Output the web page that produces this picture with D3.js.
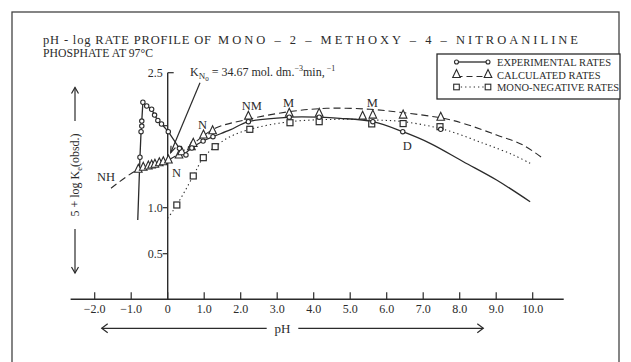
<!DOCTYPE html>
<html><head><meta charset="utf-8">
<script src="https://cdn.jsdelivr.net/npm/d3@7"></script>
<style>
body{margin:0;background:#fff;}
svg{display:block;font-family:"Liberation Serif","Times New Roman",serif;}
</style></head>
<body><svg id="c" width="631" height="362"></svg>
<script>
// ---- data ----
const titleLine1a = "pH - log RATE PROFILE OF";
const titleLine1b = "MONO \u2013 2 \u2013 METHOXY \u2013 4 \u2013 NITROANILINE";
const titleLine2 = "PHOSPHATE AT 97\u00b0C";
const xTicks = [-2,-1,0,1,2,3,4,5,6,7,8,9,10];
const xTickLabels = ["\u22122.0","\u22121.0","0","1.0","2.0","3.0","4.0","5.0","6.0","7.0","8.0","9.0","10.0"];
const yTicks = [2.5, 2.0, 1.0, 0.5];
const yTickLabels = ["2.5", "", "1.0", "0.5"];
const xExtent = [-2.66, 10.85];

// experimental rates: left spike (straight segments) and smooth curve
const expSpikePH  = [-0.82,-0.76,-0.73,-0.71,-0.71,-0.68,-0.575,-0.44,-0.36,-0.27,-0.17,0.016,0.32,0.50];
const expSpikeVal = [0.866,1.615,1.927,1.996,2.044,2.221,2.186,2.155,2.10,2.05,2.016,1.927,1.724,1.643];
const expCurvePH  = [0.43,0.66,0.97,1.24,1.71,2.21,3.33,4.15,4.72,5.62,6.44,7.19,8.10,9.01,9.93];
const expCurveVal = [1.643,1.728,1.813,1.866,1.948,2.038,2.08,2.08,2.07,2.038,1.927,1.785,1.561,1.338,1.073];
const expPointPH  = [0.66,0.97,1.24,2.21,3.33,4.15,5.62,6.44,7.48];
const expPointVal = [1.728,1.813,1.866,2.038,2.08,2.08,2.038,1.927,1.956];

// calculated rates
const calcPointPH  = [-0.805,-0.67,-0.53,-0.44,-0.35,-0.23,-0.12,0.02,0.31,0.38,0.65,0.70,0.98,1.23,2.21,3.33,4.15,5.34,5.62,6.45,7.48];
const calcPointVal = [1.468,1.493,1.509,1.521,1.529,1.549,1.561,1.582,1.643,1.683,1.744,1.785,1.887,1.939,2.09,2.117,2.117,2.09,2.10,2.10,2.08];
const calcCurvePH  = [-1.553,-0.805,0.016,0.61,1.30,2.20,3.32,4.36,5.54,6.45,7.55,8.09,9.01,9.73,10.28];
const calcCurveVal = [1.237,1.468,1.582,1.752,1.968,2.06,2.132,2.164,2.155,2.123,2.07,2.023,1.887,1.765,1.602];

// mono-negative rates
const monoPointPH  = [0.25,0.70,0.975,1.30,2.25,3.35,4.15,5.59,6.45,7.46];
const monoPointVal = [1.033,1.387,1.61,1.744,1.956,2.028,2.038,2.017,2.02,1.988];
const monoCurvePH  = [0,0.25,0.70,0.975,1.30,1.71,2.25,3.35,4.63,5.63,6.45,7.55,8.65,9.47,9.93];
const monoCurveVal = [0.885,1.033,1.387,1.61,1.744,1.866,1.956,2.038,2.06,2.054,2.038,1.956,1.785,1.643,1.541];

// point labels
const labelText = ["NH","N","N","NM","M","M","D"];
const labelPH   = [-1.94,0.12,0.83,2.03,3.16,5.45,6.44];
const labelVal  = [1.326,1.374,1.96,2.148,2.176,2.176,1.704];

// K pointer (from label to point)
const kPointerPH  = [0.885, 0.082];
const kPointerVal = [2.406, 1.671];

const legendLabels = ["EXPERIMENTAL RATES","CALCULATED RATES","MONO-NEGATIVE RATES"];

// ---- drawing ----
const ink = "#2b2b2b";
const svg = d3.select("#c");
const x = d3.scaleLinear().domain([-2,10]).range([94.7,532.7]);
const y = d3.scaleLinear().domain([0.5,1,2,2.5]).range([253.7,207.7,125.7,72.7]);
const axisY = 299.3;

// frame
svg.append("rect").attr("x",12).attr("y",12).attr("width",607).attr("height",370)
  .attr("fill","none").attr("stroke","#444").attr("stroke-width",1.3);

// title
function titleText(str, x0, yb, len, adj){
  svg.append("text").attr("x",x0).attr("y",yb).attr("font-size",12.5).attr("fill",ink)
    .attr("textLength",len).attr("lengthAdjust",adj).text(str);
}
titleText(titleLine1a, 43, 44, 168, "spacing");
titleText(titleLine1b, 218, 44, 360, "spacing");
titleText(titleLine2, 43, 57, 110, "spacingAndGlyphs");

// x axis
svg.append("line").attr("x1",x(xExtent[0])).attr("x2",x(xExtent[1]))
  .attr("y1",axisY).attr("y2",axisY).attr("stroke",ink).attr("stroke-width",1.4);
svg.selectAll(".xt").data(xTicks).join("line")
  .attr("x1",d=>x(d)).attr("x2",d=>x(d)).attr("y1",axisY).attr("y2",axisY-7)
  .attr("stroke",ink).attr("stroke-width",1.2);
svg.selectAll(".xl").data(xTicks).join("text")
  .attr("x",d=>x(d)).attr("y",312.5).attr("text-anchor","middle")
  .attr("font-size",12).attr("fill",ink).text((d,i)=>xTickLabels[i]);

// y axis
svg.append("line").attr("x1",x(0)).attr("x2",x(0)).attr("y1",y(2.5)).attr("y2",axisY)
  .attr("stroke",ink).attr("stroke-width",1.4);
svg.selectAll(".yt").data(yTicks).join("line")
  .attr("x1",x(0)).attr("x2",(d,i)=> i===0 ? x(0)+6 : x(0)-5)
  .attr("y1",d=>y(d)).attr("y2",d=>y(d)).attr("stroke",ink).attr("stroke-width",1.2);
svg.selectAll(".yl").data(yTicks).join("text")
  .attr("x",x(0)-5).attr("y",d=>y(d)+4).attr("text-anchor","end")
  .attr("font-size",12).attr("fill",ink).text((d,i)=>yTickLabels[i]);

// pH label with double arrow
const phY = 328.3;
svg.append("text").attr("x",282.5).attr("y",332.5).attr("text-anchor","middle")
  .attr("font-size",13).attr("fill",ink).text("pH");
svg.append("line").attr("x1",101.7).attr("x2",266.7).attr("y1",phY).attr("y2",phY).attr("stroke",ink).attr("stroke-width",1.2);
svg.append("line").attr("x1",298.3).attr("x2",483.3).attr("y1",phY).attr("y2",phY).attr("stroke",ink).attr("stroke-width",1.2);
svg.append("path").attr("d",`M${107.7},${phY-4.5}L${101.7},${phY}L${107.7},${phY+4.5}`).attr("fill","none").attr("stroke",ink).attr("stroke-width",1.2);
svg.append("path").attr("d",`M${477.3},${phY-4.5}L${483.3},${phY}L${477.3},${phY+4.5}`).attr("fill","none").attr("stroke",ink).attr("stroke-width",1.2);

// y label with arrows
const ylx = 75;
const yl = svg.append("text").attr("transform",`translate(${ylx+4},175) rotate(-90)`)
  .attr("text-anchor","middle").attr("font-size",12).attr("fill",ink);
yl.append("tspan").text("5 + log K");
yl.append("tspan").attr("font-size",8.5).attr("dy",3).text("e");
yl.append("tspan").attr("dy",-3).text("(obsd.)");
svg.append("line").attr("x1",ylx).attr("x2",ylx).attr("y1",87.5).attr("y2",121).attr("stroke",ink).attr("stroke-width",1.2);
svg.append("line").attr("x1",ylx).attr("x2",ylx).attr("y1",229).attr("y2",273).attr("stroke",ink).attr("stroke-width",1.2);
svg.append("path").attr("d",`M${ylx-3.5},${93.5}L${ylx},${87.5}L${ylx+3.5},${93.5}`).attr("fill","none").attr("stroke",ink).attr("stroke-width",1.2);
svg.append("path").attr("d",`M${ylx-3.5},${267}L${ylx},${273}L${ylx+3.5},${267}`).attr("fill","none").attr("stroke",ink).attr("stroke-width",1.2);

// helpers
const zip = (a,b)=>a.map((v,i)=>[v,b[i]]);
const lineLin = d3.line().x(d=>x(d[0])).y(d=>y(d[1]));
const lineSmooth = d3.line().x(d=>x(d[0])).y(d=>y(d[1])).curve(d3.curveCatmullRom.alpha(0.5));

// curves
svg.append("path").attr("d",lineSmooth(zip(monoCurvePH,monoCurveVal)))
  .attr("fill","none").attr("stroke",ink).attr("stroke-width",1.1).attr("stroke-dasharray","1.3,3");
svg.append("path").attr("d",lineSmooth(zip(calcCurvePH,calcCurveVal)))
  .attr("fill","none").attr("stroke",ink).attr("stroke-width",1.1).attr("stroke-dasharray","7,4");
svg.append("path").attr("d",lineLin(zip(expSpikePH,expSpikeVal)))
  .attr("fill","none").attr("stroke",ink).attr("stroke-width",1.3);
svg.append("path").attr("d",lineSmooth(zip(expCurvePH,expCurveVal)))
  .attr("fill","none").attr("stroke",ink).attr("stroke-width",1.3);

// K pointer
const kp = zip(kPointerPH,kPointerVal);
svg.append("line").attr("x1",x(kp[0][0])).attr("y1",y(kp[0][1])).attr("x2",x(kp[1][0])).attr("y2",y(kp[1][1]))
  .attr("stroke",ink).attr("stroke-width",1.2);
{
  const x1=x(kp[1][0]), y1=y(kp[1][1]), ang=Math.atan2(y(kp[0][1])-y1, x(kp[0][0])-x1);
  const a1=ang+0.35, a2=ang-0.35, L=7;
  svg.append("path").attr("d",`M${x1+L*Math.cos(a1)},${y1+L*Math.sin(a1)}L${x1},${y1}L${x1+L*Math.cos(a2)},${y1+L*Math.sin(a2)}`)
    .attr("fill","none").attr("stroke",ink).attr("stroke-width",1.2);
}

// markers
const tri = (cx,cy)=>`M${cx},${cy-5}L${cx+3.8},${cy+3}L${cx-3.8},${cy+3}Z`;
function squares(g, pts){ g.selectAll("rect").data(pts).join("rect")
  .attr("x",d=>x(d[0])-3).attr("y",d=>y(d[1])-3).attr("width",6).attr("height",6)
  .attr("fill","#fff").attr("stroke",ink).attr("stroke-width",1.2); }
function triangles(g, pts){ g.selectAll("path").data(pts).join("path")
  .attr("d",d=>tri(x(d[0]),y(d[1]))).attr("fill","#fff").attr("stroke",ink).attr("stroke-width",1.1); }
function circles(g, pts){ g.selectAll("circle").data(pts).join("circle")
  .attr("cx",d=>x(d[0])).attr("cy",d=>y(d[1])).attr("r",2.2)
  .attr("fill","#fff").attr("stroke",ink).attr("stroke-width",1.1); }

squares(svg.append("g"), zip(monoPointPH,monoPointVal));
triangles(svg.append("g"), zip(calcPointPH,calcPointVal));
circles(svg.append("g"), zip(expSpikePH,expSpikeVal).slice(1));
circles(svg.append("g"), zip(expPointPH,expPointVal));

// point labels
svg.selectAll(".pl").data(labelText).join("text")
  .attr("x",(d,i)=>x(labelPH[i])).attr("y",(d,i)=>y(labelVal[i]))
  .attr("font-size",12.5).attr("fill",ink).text(d=>d);

// K label
const kt = svg.append("text").attr("x",190).attr("y",76).attr("font-size",12).attr("fill",ink);
kt.append("tspan").text("K");
kt.append("tspan").attr("font-size",9).attr("dy",3).text("N");
kt.append("tspan").attr("font-size",7).attr("dy",2).text("0");
kt.append("tspan").attr("dy",-5).text(" = 34.67 mol. dm.");
kt.append("tspan").attr("font-size",8).attr("dy",-5).text("\u22123");
kt.append("tspan").attr("dy",5).text("min,");
kt.append("tspan").attr("font-size",8).attr("dy",-5).text(" \u22121");

// legend
const lg = svg.append("g");
lg.append("rect").attr("x",437).attr("y",54).attr("width",183).attr("height",45)
  .attr("fill","#fff").attr("stroke",ink).attr("stroke-width",1.3);
const rowY = [62,74.5,87];
const sx1 = 456.5, sx2 = 488;
lg.append("line").attr("x1",sx1).attr("x2",sx2).attr("y1",rowY[0]).attr("y2",rowY[0]).attr("stroke",ink).attr("stroke-width",1.3);
lg.append("line").attr("x1",sx1).attr("x2",sx2).attr("y1",rowY[1]+2).attr("y2",rowY[1]+2).attr("stroke",ink).attr("stroke-width",1.1).attr("stroke-dasharray","6,4");
lg.append("line").attr("x1",sx1).attr("x2",sx2).attr("y1",rowY[2]).attr("y2",rowY[2]).attr("stroke",ink).attr("stroke-width",1.1).attr("stroke-dasharray","1.3,3");
[sx1,sx2].forEach(sx=>{
  lg.append("circle").attr("cx",sx).attr("cy",rowY[0]).attr("r",2).attr("fill","#fff").attr("stroke",ink).attr("stroke-width",1.1);
  lg.append("path").attr("d",tri(sx,rowY[1])).attr("fill","#fff").attr("stroke",ink).attr("stroke-width",1.1);
  lg.append("rect").attr("x",sx-2.8).attr("y",rowY[2]-2.8).attr("width",5.6).attr("height",5.6).attr("fill","#fff").attr("stroke",ink).attr("stroke-width",1.1);
});
lg.selectAll("text").data(legendLabels).join("text")
  .attr("x",497).attr("y",(d,i)=>rowY[i]+4).attr("font-size",10.5).attr("fill",ink).text(d=>d);
</script></body></html>
